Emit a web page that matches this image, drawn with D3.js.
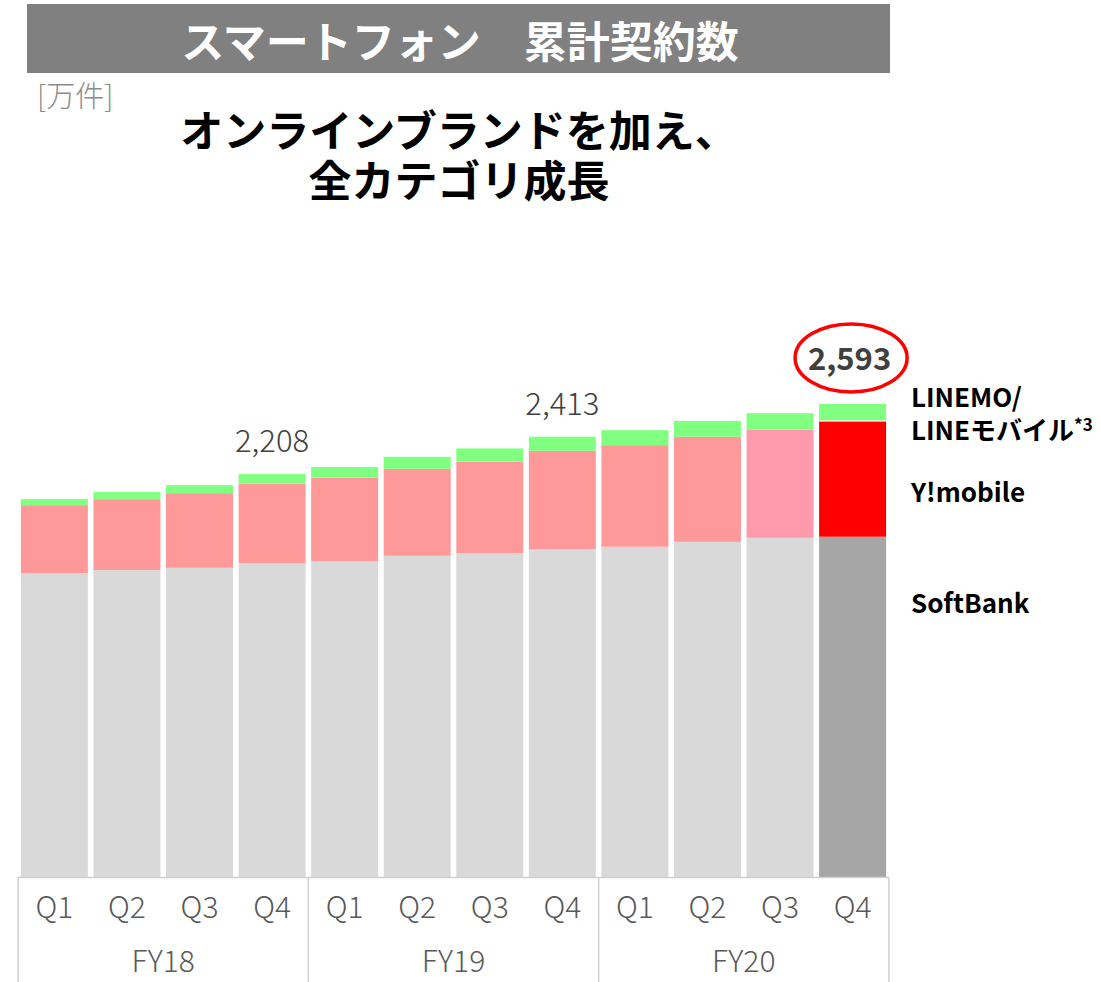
<!DOCTYPE html>
<html>
<head>
<meta charset="utf-8">
<script src="https://cdn.jsdelivr.net/npm/d3@7"></script>
<style>
  html, body { margin: 0; padding: 0; background: #fff; }
  svg { display: block; }
  text { font-family: "Noto Sans CJK JP", "Noto Sans", sans-serif; }
</style>
</head>
<body>
<svg id="chart" width="1101" height="982"></svg>
<script>
// ---- data ----
const fiscalYears = ["FY18", "FY19", "FY20"];
const quarters = ["Q1", "Q2", "Q3", "Q4"];
const softbank = [1666, 1682, 1695, 1721, 1732, 1761, 1774, 1797, 1810, 1837, 1859, 1865];
const ymobile  = [372, 389, 409, 434, 456, 476, 502, 539, 557, 576, 592, 635];
const linemo   = [33, 39, 44, 53, 59, 66, 73, 77, 82, 87, 91, 93];
const totalLabels = [{ idx: 3, text: "2,208" }, { idx: 7, text: "2,413" }, { idx: 11, text: "2,593" }];
const seriesNames = ["SoftBank", "Y!mobile", "LINEMO/LINEモバイル"];

// ---- build table ----
const periods = [];
fiscalYears.forEach(fy => quarters.forEach(q => periods.push({ fy, q })));
const table = periods.map((p, i) => ({
  i, fy: p.fy, q: p.q,
  sb: softbank[i], ym: ymobile[i], ln: linemo[i]
}));
const keys = ["sb", "ym", "ln"];

// ---- styles ----
const baseColors = { sb: "#D9D9D9", ym: "#FF9999", ln: "#80FF80" };
const overrideColors = {
  10: { ym: "#FF99AC" },
  11: { sb: "#A6A6A6", ym: "#FF0000" }
};
function colorOf(key, i) {
  return (overrideColors[i] && overrideColors[i][key]) || baseColors[key];
}

const svg = d3.select("#chart");

// ---- header ----
svg.append("rect").attr("x", 27).attr("y", 4).attr("width", 863).attr("height", 69).attr("fill", "#808080");
svg.append("text").attr("x", 460).attr("y", 39).attr("text-anchor", "middle")
  .attr("dominant-baseline", "central").attr("fill", "#fff")
  .attr("font-size", 43).attr("font-weight", 700)
  .text("スマートフォン　累計契約数");

svg.append("text").attr("x", 37).attr("y", 107).attr("fill", "#8C8C8C")
  .attr("font-size", 29).attr("font-weight", 300).text("[万件]");

svg.append("text").attr("x", 459).attr("y", 147).attr("text-anchor", "middle")
  .attr("font-size", 43).attr("font-weight", 700).attr("fill", "#000")
  .text("オンラインブランドを加え、");
svg.append("text").attr("x", 459).attr("y", 197).attr("text-anchor", "middle")
  .attr("font-size", 43).attr("font-weight", 700).attr("fill", "#000")
  .text("全カテゴリ成長");

// ---- scales ----
const baseY = 877;
const x = d3.scaleBand().domain(table.map(d => d.i)).range([18, 889])
  .paddingInner(0.077).paddingOuter(0.04);
const y = d3.scaleLinear().domain([0, 2600]).range([baseY, baseY - 2600 * 0.18245]);

const stack = d3.stack().keys(keys)(table);

// ---- bars ----
const g = svg.append("g");
stack.forEach(layer => {
  g.selectAll(null).data(layer).enter().append("rect")
    .attr("x", d => x(d.data.i))
    .attr("width", x.bandwidth())
    .attr("y", d => y(d[1]))
    .attr("height", d => y(d[0]) - y(d[1]))
    .attr("fill", d => colorOf(layer.key, d.data.i));
});
// thin separator on highlighted last bar
g.append("line")
  .attr("x1", x(11)).attr("x2", x(11) + x.bandwidth())
  .attr("y1", y(softbank[11] + ymobile[11])).attr("y2", y(softbank[11] + ymobile[11]))
  .attr("stroke", "#fff").attr("stroke-width", 1.5).attr("opacity", 0.8);

// ---- total labels ----
totalLabels.forEach(t => {
  const d = table[t.idx];
  const tot = d.sb + d.ym + d.ln;
  const cx = x(t.idx) + x.bandwidth() / 2;
  const last = t.idx === 11;
  svg.append("text")
    .attr("x", cx - (last ? 3 : 0))
    .attr("y", y(tot) - (last ? 34 : 22))
    .attr("text-anchor", "middle")
    .attr("font-size", 31)
    .attr("font-weight", last ? 700 : 300)
    .attr("fill", "#404040")
    .text(t.text);
  if (last) {
    svg.append("ellipse").attr("cx", cx - 1.5).attr("cy", y(tot) - 46)
      .attr("rx", 56).attr("ry", 34)
      .attr("fill", "none").attr("stroke", "#FF0000").attr("stroke-width", 3.5);
  }
});

// ---- x axis (two levels) ----
const axisColor = "#D0D0D0";
const step = x.step();
const half = (step - x.bandwidth()) / 2;
const ax = svg.append("g");
ax.append("line").attr("x1", 18).attr("x2", 889).attr("y1", baseY + 0.5).attr("y2", baseY + 0.5)
  .attr("stroke", axisColor).attr("stroke-width", 1.5);
const groupEdges = [0, 4, 8].map(i => x(i) - half).concat([x(11) + x.bandwidth() + half]);
groupEdges.forEach(ex => {
  ax.append("line").attr("x1", ex).attr("x2", ex).attr("y1", baseY).attr("y2", 982)
    .attr("stroke", axisColor).attr("stroke-width", 1.5);
});

const qAxis = d3.axisBottom(x).tickSize(0).tickPadding(0).tickFormat(i => table[i].q);
const qg = svg.append("g").attr("transform", `translate(0,${baseY})`).call(qAxis);
qg.select(".domain").remove();
qg.selectAll("text").attr("font-size", 30).attr("font-weight", 300).attr("fill", "#595959")
  .attr("dy", null).attr("y", 41).attr("font-family", '"Noto Sans CJK JP", sans-serif');

fiscalYears.forEach((fy, k) => {
  const cx = (groupEdges[k] + groupEdges[k + 1]) / 2;
  svg.append("text").attr("x", cx).attr("y", 972).attr("text-anchor", "middle")
    .attr("font-size", 30).attr("font-weight", 300).attr("fill", "#595959").text(fy);
});

// ---- series labels ----
const lx = 911;
const lab1 = svg.append("text").attr("x", lx).attr("y", 407).attr("font-size", 26).attr("font-weight", 700).attr("fill", "#000");
lab1.append("tspan").attr("x", lx).text("LINEMO/");
lab1.append("tspan").attr("x", lx).attr("dy", 33).text("LINEモバイル");
lab1.append("tspan").attr("font-size", 17).attr("dy", -9).text("*3");

svg.append("text").attr("x", lx).attr("y", 502).attr("font-size", 26).attr("font-weight", 700)
  .attr("fill", "#000").text(seriesNames[1]);
svg.append("text").attr("x", lx).attr("y", 613).attr("font-size", 26).attr("font-weight", 700)
  .attr("fill", "#000").text(seriesNames[0]);
</script>
</body>
</html>
